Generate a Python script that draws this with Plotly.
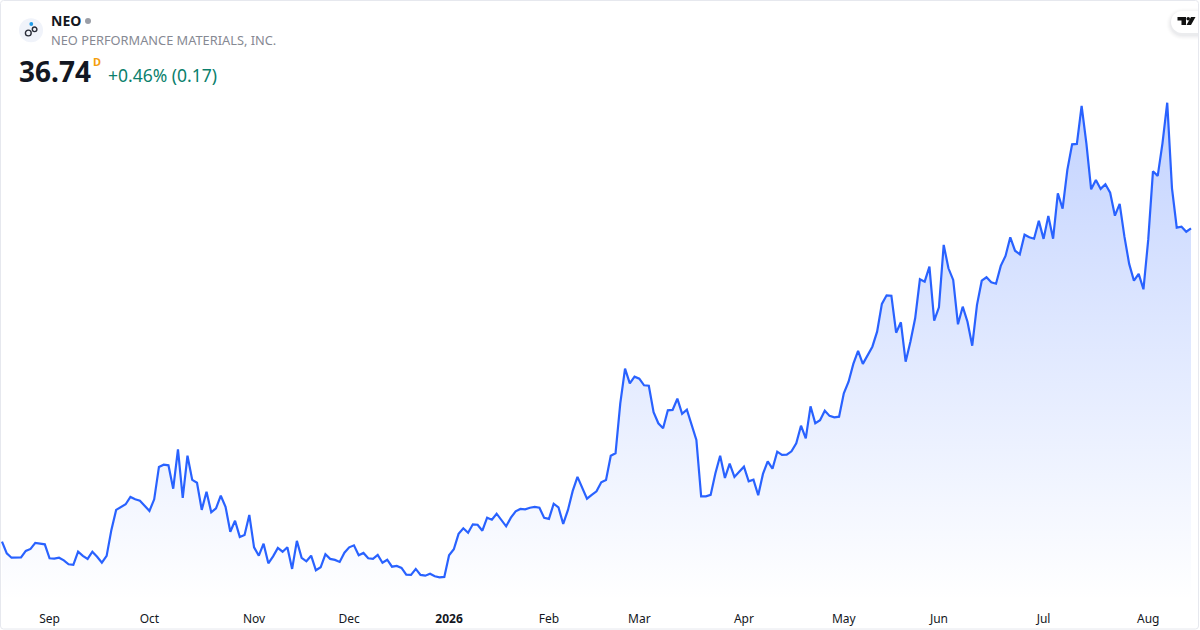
import pandas as pd
import plotly.graph_objects as go

# Colours
LINE_BLUE = '#2962FF'
TEXT_DARK = '#131722'
TEXT_GRAY = '#868993'
GREEN = '#0B7F6C'
ORANGE = '#F59E0B'
BORDER = '#E6E8EE'

# Daily closes
closes = [
    21.07, 20.49, 20.27, 20.27, 20.29, 20.61, 20.71, 21.01, 20.99, 20.94,
    20.24, 20.22, 20.27, 20.14, 19.94, 19.91, 20.57, 20.36, 20.21, 20.57,
    20.32, 20.02, 20.36, 21.66, 22.66, 22.81, 22.94, 23.31, 23.19, 23.12,
    22.84, 22.61, 23.19, 24.81, 24.92, 24.89, 23.72, 25.69, 23.26, 25.37,
    24.16, 24.02, 22.66, 23.57, 22.54, 22.74, 23.37, 22.82, 21.57, 22.12,
    21.31, 21.41, 22.41, 20.79, 20.37, 20.97, 19.99, 20.34, 20.76, 20.57,
    20.79, 19.71, 21.11, 20.26, 20.09, 20.37, 19.64, 19.79, 20.44, 20.21,
    20.16, 20.06, 20.52, 20.79, 20.89, 20.39, 20.51, 20.24, 20.21, 20.41,
    20.02, 20.17, 19.82, 19.86, 19.76, 19.42, 19.41, 19.71, 19.41, 19.37,
    19.47, 19.34, 19.29, 19.31, 20.39, 20.69, 21.46, 21.74, 21.52, 21.94,
    21.92, 21.62, 22.27, 22.17, 22.47, 22.16, 21.84, 22.27, 22.59, 22.71,
    22.69, 22.77, 22.81, 22.77, 22.26, 22.21, 22.97, 22.79, 21.96, 22.66,
    23.61, 24.31, 23.77, 23.22, 23.41, 23.59, 24.04, 24.16, 25.37, 25.49,
    27.99, 29.72, 28.99, 29.32, 29.22, 28.89, 28.87, 27.54, 26.99, 26.74,
    27.64, 27.66, 28.22, 27.46, 27.67, 26.91, 26.16, 23.34, 23.34, 23.41,
    24.49, 25.37, 24.26, 24.97, 24.31, 24.57, 24.82, 24.09, 24.17, 23.39,
    24.46, 25.09, 24.72, 25.57, 25.41, 25.42, 25.59, 25.99, 26.87, 26.24,
    27.84, 26.99, 27.14, 27.62, 27.36, 27.29, 27.32, 28.49, 29.07, 29.96,
    30.61, 29.96, 30.41, 30.82, 31.57, 32.96, 33.39, 33.37, 31.52, 32.04,
    30.07, 31.07, 32.24, 34.19, 34.07, 34.82, 32.12, 32.79, 35.91, 34.74,
    34.16, 31.94, 32.82, 32.07, 30.87, 32.91, 34.12, 34.29, 34.04, 33.97,
    34.86, 35.36, 36.29, 35.62, 35.44, 36.42, 36.29, 36.22, 37.11, 36.21,
    37.36, 36.22, 38.49, 37.72, 39.66, 40.94, 40.96, 42.86, 40.99, 38.69,
    39.16, 38.71, 38.94, 38.52, 37.37, 37.96, 36.32, 34.96, 34.12, 34.46,
    33.69, 36.16, 39.59, 39.36, 40.99, 43.02, 38.74, 36.77, 36.82, 36.57,
    36.74,
]

# Exchange holidays, so the sessions line up with the month labels
holidays = ['2025-09-01', '2025-10-13', '2025-12-25', '2025-12-26', '2026-01-01',
            '2026-02-16', '2026-04-03', '2026-05-18', '2026-07-01', '2026-08-03']
sessions = pd.bdate_range('2025-08-18', '2026-08-17').difference(pd.to_datetime(holidays))
dates = [d.strftime('%Y-%m-%d') for d in sessions]

# First session of each month gets a tick
firsts = pd.Series(sessions).groupby([sessions.year, sessions.month]).min().iloc[1:]
tick_dates = [d.strftime('%Y-%m-%d') for d in firsts]
tick_labels = [f'<b>{d.year}</b>' if d.month == 1 else d.strftime('%b') for d in firsts]

WIDTH, HEIGHT, PLOT_H = 1200, 630, 600


def px(x):
    return x / WIDTH


def py(y):
    return (PLOT_H - y) / PLOT_H


def circle(x, y, r, fill='rgba(0,0,0,0)', line=None, width=0):
    return dict(type='circle', xref='paper', yref='paper',
                x0=px(x - r), x1=px(x + r), y0=py(y + r), y1=py(y - r),
                fillcolor=fill, line=dict(color=line, width=width))


def path(points, fill, line=None, width=0):
    svg = 'M ' + ' L '.join(f'{px(a):.5f} {py(b):.5f}' for a, b in points) + ' Z'
    return dict(type='path', xref='paper', yref='paper', path=svg,
                fillcolor=fill, line=dict(color=line, width=width))


def pill(x0, x1, y0, y1, fill):
    # Rounded on the left side only, runs out to the widget edge on the right
    rad = (y1 - y0) / 2
    k = rad * 0.55
    mid = (y0 + y1) / 2
    svg = (f'M {px(x1)} {py(y0)} L {px(x0 + rad)} {py(y0)} '
           f'C {px(x0 + rad - k)} {py(y0)} {px(x0)} {py(mid - k)} {px(x0)} {py(mid)} '
           f'C {px(x0)} {py(mid + k)} {px(x0 + rad - k)} {py(y1)} {px(x0 + rad)} {py(y1)} '
           f'L {px(x1)} {py(y1)} Z')
    return dict(type='path', xref='paper', yref='paper', path=svg,
                fillcolor=fill, line=dict(width=0))


fig = go.Figure()
fig.add_trace(go.Scatter(
    x=dates,
    y=closes,
    mode='lines',
    line=dict(color=LINE_BLUE, width=2.2),
    fill='tozeroy',
    fillgradient=dict(type='vertical', start=18.155, stop=43.0,
                      colorscale=[[0, 'rgba(41,98,255,0)'], [1, 'rgba(41,98,255,0.28)']]),
    hoverinfo='skip',
    showlegend=False,
))

shapes = []

# TradingView badge, soft shadow first
for grow, alpha in [(5, 0.008), (4, 0.012), (3, 0.016), (2, 0.02), (1, 0.025)]:
    shapes.append(pill(1171 - grow, 1198, 11 - grow + 2, 33 + grow + 2, f'rgba(19,23,34,{alpha})'))
shapes.append(pill(1171, 1198, 11, 33, 'white'))
shapes.append(path([(1177.5, 17), (1186, 17), (1186, 25), (1181.5, 25), (1181.5, 20.5), (1177.5, 20.5)],
                   fill='#111111'))
shapes.append(circle(1188.2, 18.8, 1.8, fill='#111111'))
shapes.append(path([(1191, 17), (1195.5, 17), (1191, 25), (1186.5, 25)], fill='#111111'))

# Widget border
r = 3
shapes.append(dict(
    type='path', xref='paper', yref='paper',
    path=(f'M {px(0.5 + r)} {py(0.5)} L {px(1198.5 - r)} {py(0.5)} '
          f'Q {px(1198.5)} {py(0.5)} {px(1198.5)} {py(0.5 + r)} '
          f'L {px(1198.5)} {py(629 - r)} Q {px(1198.5)} {py(629)} {px(1198.5 - r)} {py(629)} '
          f'L {px(0.5 + r)} {py(629)} Q {px(0.5)} {py(629)} {px(0.5)} {py(629 - r)} '
          f'L {px(0.5)} {py(0.5 + r)} Q {px(0.5)} {py(0.5)} {px(0.5 + r)} {py(0.5)} Z'),
    line=dict(color=BORDER, width=1), fillcolor='rgba(0,0,0,0)'))

# Ticker logo
shapes.append(circle(31, 30.3, 12, fill='#F0F3FA'))
shapes.append(circle(31.3, 24, 1.9, fill='#1E9BE8'))
shapes.append(circle(28.3, 33, 2.9, line='#2A2E39', width=1.4))
shapes.append(circle(34.6, 29.3, 2.3, line='#2A2E39', width=1.4))

# Market status dot
shapes.append(circle(88, 21, 3, fill='#9B9EA6'))

# Header texts
FONT = 'Noto Sans'
header = [
    ('NEO', 51, 20.5, 14, TEXT_DARK, True),
    ('NEO PERFORMANCE MATERIALS, INC.', 51, 40, 12.8, TEXT_GRAY, False),
    ('36.74', 19, 71, 28, TEXT_DARK, True),
    ('D', 93, 61.5, 11, ORANGE, True),
    ('+0.46% (0.17)', 108, 75, 17.5, GREEN, False),
]
annotations = [
    dict(text=f'<b>{t}</b>' if bold else t, xref='paper', yref='paper',
         x=px(x), y=py(y), xanchor='left', yanchor='middle', showarrow=False,
         borderpad=0, borderwidth=0,
         font=dict(family=FONT, size=size, color=color))
    for t, x, y, size, color, bold in header
]

fig.update_layout(
    width=WIDTH,
    height=HEIGHT,
    margin=dict(l=0, r=0, t=0, b=30, pad=0),
    paper_bgcolor='white',
    plot_bgcolor='white',
    shapes=shapes,
    annotations=annotations,
    xaxis=dict(
        type='category',
        range=[-0.42, 251.89],
        tickmode='array',
        tickvals=tick_dates,
        ticktext=tick_labels,
        showgrid=False,
        zeroline=False,
        showline=False,
        ticks='outside',
        ticklen=8,
        tickcolor='rgba(0,0,0,0)',
        tickfont=dict(family=FONT, size=12, color=TEXT_DARK),
    ),
    yaxis=dict(range=[18.155, 48.155], visible=False),
)

# Drop the browser's default page margin so the widget sits at 0,0
fig.write_html('out.html', config=dict(displayModeBar=False),
               post_script="document.body.style.margin='0';document.body.style.overflow='hidden';")
